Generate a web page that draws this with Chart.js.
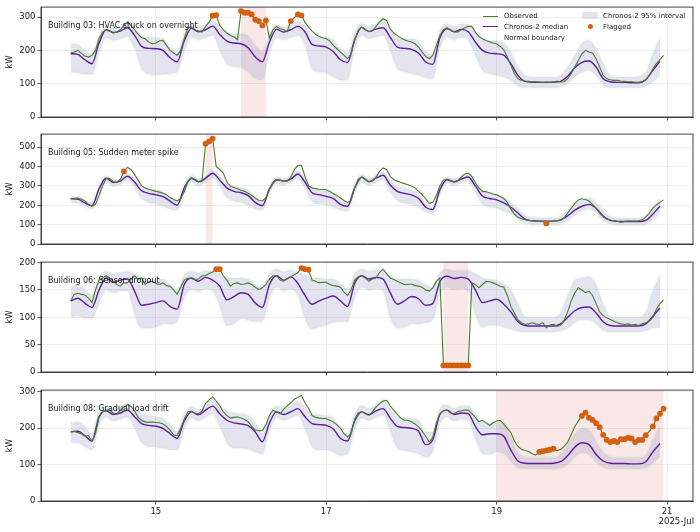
<!DOCTYPE html>
<html lang="en">
<head>
<meta charset="UTF-8">
<title>Chronos-2 anomaly flags</title>
<script src="https://cdn.jsdelivr.net/npm/chart.js"></script>
<style>
  body { margin: 0; background: #fff; overflow: hidden; font-family: 'DejaVu Sans', sans-serif; }
  #wrap { position: relative; width: 700px; height: 532px; }
  #wrap canvas { position: absolute; left: 0; }
  .lg { position: absolute; font-size: 7px; line-height: 10px; color: #222; white-space: nowrap; }
  .ln { position: absolute; height: 1.4px; width: 15px; }
</style>
</head>
<body>
<div id="wrap">
  <canvas id="c03" width="700" height="125" style="top:0px"></canvas>
  <canvas id="c05" width="700" height="125" style="top:127px"></canvas>
  <canvas id="c06" width="700" height="125" style="top:255px"></canvas>
  <canvas id="c08" width="700" height="150" style="top:383px"></canvas>

  <!-- legend of the top panel -->
  <div class="ln" style="left:483px;top:15.5px;background:#4b7b2b"></div>
  <div class="lg" style="left:504px;top:11px">Observed</div>
  <div class="ln" style="left:483px;top:26px;background:#5b2196"></div>
  <div class="lg" style="left:504px;top:21.5px">Chronos-2 median</div>
  <div class="ln" style="left:483px;top:37px;background:rgba(175,215,175,0.12)"></div>
  <div class="lg" style="left:504px;top:32.5px">Normal boundary</div>
  <div style="position:absolute;left:582px;top:12px;width:16px;height:7px;background:rgba(120,120,185,0.2)"></div>
  <div class="lg" style="left:603px;top:11px">Chronos-2 95% interval</div>
  <div style="position:absolute;left:587.5px;top:24px;width:5px;height:5px;border-radius:50%;background:#d4600f"></div>
  <div class="lg" style="left:603px;top:21.5px">Flagged</div>
</div>
<script>
// x axis: hours from 2025-07-14 00:00
const dayTickHours = [24, 72, 120, 168];
const dayTickLabels = ['15', '17', '19', '21'];

// Building 03 - hourly observed, 2-hourly forecast
const b03Observed = [
  192,195,200,192,183,180,185,200,235,255,262,258,252,255,262,275,285,275,262,248,238,235,225,220,
  222,228,230,215,200,192,185,200,235,268,270,262,258,255,272,285,304,306,275,262,252,245,240,232,
  318,313,313,308,292,288,275,290,237,262,272,265,262,257,288,298,308,305,285,270,258,248,242,238,
  235,228,215,205,195,185,175,190,230,260,270,262,256,258,272,285,295,290,265,252,245,237,232,228,
  225,220,210,195,182,175,185,215,245,262,268,262,256,255,262,268,272,272,255,242,235,230,226,222,
  220,212,202,180,155,130,115,110,108,107,105,106,105,104,105,104,105,108,105,106,115,130,150,170,
  190,200,195,192,175,150,125,115,112,110,110,108,107,106,106,104,104,106,112,125,145,160,172,185
];
const b03Median = [
  190,188,172,160,222,262,254,258,268,245,212,206,
  205,200,178,166,228,266,256,262,273,248,228,222,
  220,208,180,166,225,263,255,262,272,256,218,213,
  210,196,172,164,232,269,257,264,268,240,210,206,
  203,192,165,158,238,265,256,263,256,225,200,192,
  190,186,160,125,107,105,104,104,105,107,122,148,
  164,168,150,115,106,104,104,103,103,112,140,168
];
const b03Lower = [
  135,132,128,128,190,238,230,234,242,205,145,128,
  125,128,130,135,195,240,232,238,245,200,160,150,
  148,135,115,110,190,238,232,238,245,215,145,135,
  132,120,110,112,200,245,235,240,245,200,145,135,
  130,125,118,115,205,240,232,238,230,185,140,130,
  125,120,110,92,88,88,88,88,88,90,100,120,
  135,140,125,95,88,88,88,88,88,92,105,125
];
const b03Upper = [
  220,218,200,188,245,275,268,272,285,268,245,240,
  238,235,210,195,250,280,272,278,290,272,255,250,
  250,245,215,198,250,278,270,278,288,275,245,240,
  240,232,205,195,255,282,272,280,298,268,240,235,
  235,228,198,188,260,280,272,280,278,255,235,228,
  228,222,195,150,125,120,120,120,120,125,150,185,
  222,230,205,160,125,120,120,120,122,135,190,238
];
const b03Flags = [40, 41, 48, 49, 50, 51, 52, 53, 54, 55, 62, 64, 65];
const b03Span = [48, 55];

// Building 05
const b05Observed = [
  234,236,237,232,222,205,195,205,250,300,340,338,322,318,335,375,396,385,360,330,300,290,283,278,
  272,268,262,255,240,230,223,235,270,320,342,335,323,322,518,530,545,401,385,367,320,298,292,285,
  278,272,262,252,238,225,223,240,280,315,332,330,323,325,345,385,405,407,350,300,290,286,283,282,
  280,272,260,250,238,225,215,225,290,335,346,335,322,325,345,375,393,385,350,332,325,318,312,306,
  300,290,272,255,234,210,215,250,300,330,335,328,320,328,345,362,367,350,315,290,272,270,265,258,
  254,245,235,215,180,155,138,130,125,122,120,119,118,116,107,117,118,120,122,135,160,185,210,228,
  234,230,222,205,185,160,140,128,124,120,118,112,117,118,118,118,120,125,140,160,185,202,215,228
];
const b05Median = [
  234,232,212,198,285,340,318,325,350,320,275,262,
  254,245,222,200,290,340,322,340,366,330,290,272,
  265,250,215,198,285,332,325,335,362,320,265,255,
  246,235,205,195,290,345,322,340,355,305,272,262,
  254,235,190,178,280,332,322,335,346,300,248,235,
  228,212,190,160,128,120,118,118,118,125,145,175,
  195,205,185,145,122,117,116,116,116,122,155,195
];
const b05Lower = [
  215,212,192,180,255,320,298,305,328,290,235,215,
  205,195,180,175,265,318,300,318,342,295,240,222,
  215,200,180,175,262,312,305,315,340,285,220,205,
  200,190,175,172,265,322,302,318,332,270,225,210,
  205,190,165,155,255,312,302,315,325,265,205,190,
  185,170,155,130,108,100,99,99,99,104,120,150,
  170,180,160,120,102,98,97,97,97,100,125,160
];
const b05Upper = [
  245,242,225,212,300,352,332,340,365,338,298,288,
  280,270,240,215,305,355,338,355,385,352,312,300,
  292,278,235,212,300,348,340,350,380,342,290,282,
  272,262,225,210,305,360,338,355,372,330,298,290,
  280,262,210,195,298,348,338,350,362,325,275,265,
  255,240,215,185,148,138,136,136,136,145,175,210,
  225,240,215,175,142,136,134,134,135,142,185,235
];
const b05Flags = [15, 38, 39, 40, 134];
const b05Span = [38, 40];

// Building 06
const b06Observed = [
  130,142,144,142,141,135,127,150,168,172,176,172,166,160,157,163,163,170,176,170,172,160,165,166,
  162,160,163,158,157,150,142,155,168,172,171,169,170,176,176,180,183,188,188,176,168,157,162,163,
  160,161,163,160,155,151,154,160,170,176,176,168,166,170,174,178,182,190,188,187,168,166,163,164,
  164,160,158,157,155,146,140,150,168,174,176,172,166,170,172,182,188,180,172,169,166,163,160,160,
  161,158,157,155,150,148,154,166,172,12,12,12,12,12,12,12,12,163,160,154,160,166,165,163,
  160,157,155,140,120,108,95,90,87,88,90,88,87,90,81,86,87,84,85,95,110,130,145,154,
  150,145,148,140,125,110,103,99,96,93,90,88,87,88,86,87,85,88,90,93,100,115,125,132
];
const b06Median = [
  130,135,126,118,150,172,164,168,170,148,122,124,
  127,130,120,115,160,172,166,173,168,157,132,138,
  145,142,126,118,160,176,168,174,162,140,124,130,
  135,139,130,120,162,176,170,173,170,145,124,130,
  138,134,122,125,165,175,171,173,170,150,127,130,
  133,124,110,92,85,84,84,84,84,88,100,112,
  118,119,108,92,85,84,84,84,84,88,102,117
];
const b06Lower = [
  100,102,98,98,125,150,145,148,148,105,80,80,
  82,88,88,92,135,150,147,152,148,120,85,88,
  98,95,92,92,135,155,148,152,140,98,78,82,
  85,90,92,92,135,155,150,152,148,100,80,82,
  88,88,90,95,140,155,150,152,148,105,82,85,
  85,82,78,74,73,73,73,73,73,75,80,90,
  95,95,88,76,73,73,73,73,73,75,80,82
];
const b06Upper = [
  155,160,152,142,175,184,180,182,184,180,172,172,
  170,170,160,150,178,184,182,185,184,180,172,172,
  172,170,160,155,180,188,184,186,182,178,172,172,
  170,170,162,152,180,188,185,186,185,178,170,170,
  170,168,160,155,182,188,185,186,186,180,172,170,
  168,162,150,125,102,100,100,100,100,108,140,168,
  172,175,160,125,102,100,100,100,100,110,150,178
];
const b06Flags = [41, 42, 65, 66, 67, 105, 106, 107, 108, 109, 110, 111, 112];
const b06Span = [105, 112];

// Building 08
const b08Observed = [
  190,192,188,185,178,180,165,185,230,245,250,250,242,240,250,258,265,260,248,230,222,217,217,217,
  216,215,212,205,195,182,180,200,225,245,247,242,240,248,268,278,286,275,262,245,235,228,230,231,
  228,224,218,205,195,193,193,210,235,250,245,240,252,262,270,280,285,291,270,255,235,230,228,227,
  227,222,217,210,200,185,176,185,225,242,246,240,236,245,258,268,275,277,262,250,238,228,222,222,
  218,212,204,192,178,162,175,215,240,248,250,242,240,246,248,250,250,240,230,218,222,215,208,215,
  220,222,212,200,188,165,150,142,139,136,130,126,135,137,139,141,144,138,142,150,162,183,205,220,
  234,243,229,223,214,203,182,168,162,165,162,170,170,174,172,162,168,168,181,192,205,227,240,254
];
const b08Median = [
  190,192,180,165,232,248,238,242,250,232,213,208,
  206,200,185,172,220,245,237,250,261,240,222,215,
  212,207,190,163,215,245,238,245,254,232,213,210,
  208,198,172,165,220,245,237,248,254,228,205,202,
  200,192,155,168,238,250,238,242,240,205,182,185,
  185,178,140,110,104,103,103,103,104,108,125,148,
  160,155,128,110,104,103,103,102,102,108,135,158
];
const b08Lower = [
  160,160,150,140,205,230,220,225,230,200,160,150,
  148,145,140,140,195,228,220,230,240,205,160,145,
  145,142,135,130,190,228,222,228,235,198,150,140,
  140,135,125,130,195,228,220,230,235,192,145,138,
  135,130,120,135,210,232,220,225,222,170,130,128,
  135,130,110,90,88,88,88,88,88,90,100,120,
  132,128,108,92,88,88,88,88,88,90,105,122
];
const b08Upper = [
  215,218,205,185,250,262,254,258,268,255,240,235,
  232,228,210,192,240,260,252,265,280,262,248,242,
  240,235,215,185,238,262,255,262,275,258,240,238,
  235,228,200,185,240,262,254,265,278,255,232,230,
  228,222,190,190,255,265,255,262,262,240,215,215,
  215,210,175,135,122,120,120,120,120,128,155,185,
  200,195,165,135,122,120,120,120,120,128,170,205
];
const b08Flags = [132,133,134,135,136,144,145,146,147,148,149,150,151,152,153,154,155,156,157,158,159,160,161,162,164,165,166,167];
const b08Span = [120, 167];

const obsColor = '#4b7b2b';
const medColor = '#5b2196';
const flagColor = '#d4600f';
const bandColor = 'rgba(120,120,185,0.2)';
const haloColor = 'rgba(175,215,175,0.13)';
const spanColor = 'rgba(215,60,60,0.12)';
const axisColor = '#333';
const gridColor = '#ebebeb';

Chart.defaults.font.family = "'DejaVu Sans', sans-serif";
Chart.defaults.font.size = 8.5;
Chart.defaults.color = '#222';

// shaded anomaly windows, drawn under the lines
const spanPlugin = {
  id: 'spans',
  beforeDatasetsDraw(chart, args, opts) {
    const { ctx, chartArea, scales } = chart;
    const x0 = scales.x.getPixelForValue(opts.range[0]);
    const x1 = scales.x.getPixelForValue(opts.range[1]);
    ctx.save();
    ctx.fillStyle = spanColor;
    ctx.fillRect(x0, chartArea.top, x1 - x0, chartArea.bottom - chartArea.top);
    ctx.restore();
  }
};

// box round the axes + building caption
const framePlugin = {
  id: 'frame',
  afterDraw(chart, args, opts) {
    const { ctx, chartArea } = chart;
    ctx.save();
    ctx.font = "8px 'DejaVu Sans', sans-serif";
    ctx.fillStyle = '#222';
    ctx.textBaseline = 'middle';
    ctx.textAlign = 'left';
    ctx.fillText(opts.caption, chartArea.left + 7, chartArea.top + 19);
    ctx.strokeStyle = axisColor;
    ctx.lineWidth = 0.9;
    ctx.strokeRect(chartArea.left, chartArea.top, chartArea.right - chartArea.left, chartArea.bottom - chartArea.top);
    if (opts.yearLabel) {
      ctx.font = "8.5px 'DejaVu Sans', sans-serif";
      ctx.textAlign = 'right';
      ctx.fillText(opts.yearLabel, chartArea.right + 1, chartArea.bottom + 21);
    }
    ctx.restore();
  }
};

function makePanel(id, p) {
  const obsPts = p.observed.map((v, i) => ({ x: i, y: v }));
  const medPts = p.median.map((v, i) => ({ x: i * 2, y: v }));
  const lowPts = p.lower.map((v, i) => ({ x: i * 2, y: v }));
  const upPts = p.upper.map((v, i) => ({ x: i * 2, y: v }));
  const flagPts = p.flags.map(h => ({ x: h, y: p.observed[h] }));
  const smooth = { tension: 0.4, cubicInterpolationMode: 'monotone', pointRadius: 0 };

  return new Chart(document.getElementById(id), {
    type: 'line',
    data: {
      datasets: [
        { data: lowPts, borderWidth: 0, borderColor: 'transparent', fill: false, order: 6, ...smooth },
        { data: upPts, borderWidth: 0, borderColor: 'transparent', fill: '-1', backgroundColor: bandColor, order: 5, ...smooth },
        { data: lowPts, borderWidth: 3, borderColor: haloColor, fill: false, order: 4, ...smooth },
        { data: upPts, borderWidth: 3, borderColor: haloColor, fill: false, order: 4, ...smooth },
        { data: medPts, borderWidth: 1.4, borderColor: medColor, fill: false, order: 2, ...smooth },
        { data: obsPts, borderWidth: 1.1, borderColor: obsColor, fill: false, order: 1, tension: 0, pointRadius: 0 },
        { data: flagPts, showLine: false, pointRadius: 2.9, pointBackgroundColor: flagColor, pointBorderWidth: 0, order: 0 }
      ]
    },
    options: {
      responsive: false,
      animation: false,
      devicePixelRatio: 1,
      layout: { padding: { top: 7, right: 7, left: 0, bottom: 0 } },
      plugins: {
        legend: { display: false },
        tooltip: { enabled: false },
        spans: { range: p.span },
        frame: { caption: p.caption, yearLabel: p.yearLabel }
      },
      scales: {
        x: {
          type: 'linear', min: -8.35, max: 175.3,
          afterBuildTicks: s => { s.ticks = dayTickHours.map(v => ({ value: v })); },
          afterFit: s => { s.height = p.xAxisHeight; },
          ticks: {
            display: p.showDates, autoSkip: false, maxRotation: 0, padding: 2,
            callback: v => dayTickLabels[dayTickHours.indexOf(v)]
          },
          grid: { color: gridColor, lineWidth: 0.8, tickColor: axisColor, tickLength: 3.5 },
          border: { color: axisColor, width: 0.9 }
        },
        y: {
          min: 0, max: p.yMax,
          afterBuildTicks: s => { s.ticks = p.yTicks.map(v => ({ value: v })); },
          afterFit: s => { s.width = 41; },
          ticks: { padding: 2 },
          grid: { color: gridColor, lineWidth: 0.8, tickColor: axisColor, tickLength: 3.5 },
          border: { color: axisColor, width: 0.9 },
          title: { display: true, text: 'kW', padding: { top: 5, bottom: 0 } }
        }
      }
    },
    plugins: [spanPlugin, framePlugin]
  });
}

makePanel('c03', {
  observed: b03Observed, median: b03Median, lower: b03Lower, upper: b03Upper,
  flags: b03Flags, span: b03Span, caption: 'Building 03: HVAC stuck on overnight',
  yMax: 330, yTicks: [0, 100, 200, 300], xAxisHeight: 8, showDates: false
});
makePanel('c05', {
  observed: b05Observed, median: b05Median, lower: b05Lower, upper: b05Upper,
  flags: b05Flags, span: b05Span, caption: 'Building 05: Sudden meter spike',
  yMax: 568, yTicks: [0, 100, 200, 300, 400, 500], xAxisHeight: 8, showDates: false
});
makePanel('c06', {
  observed: b06Observed, median: b06Median, lower: b06Lower, upper: b06Upper,
  flags: b06Flags, span: b06Span, caption: 'Building 06: Sensor dropout',
  yMax: 201, yTicks: [0, 50, 100, 150, 200], xAxisHeight: 8, showDates: false
});
makePanel('c08', {
  observed: b08Observed, median: b08Median, lower: b08Lower, upper: b08Upper,
  flags: b08Flags, span: b08Span, caption: 'Building 08: Gradual load drift',
  yMax: 305, yTicks: [0, 100, 200, 300], xAxisHeight: 32, showDates: true, yearLabel: '2025-Jul'
});
</script>
</body>
</html>
